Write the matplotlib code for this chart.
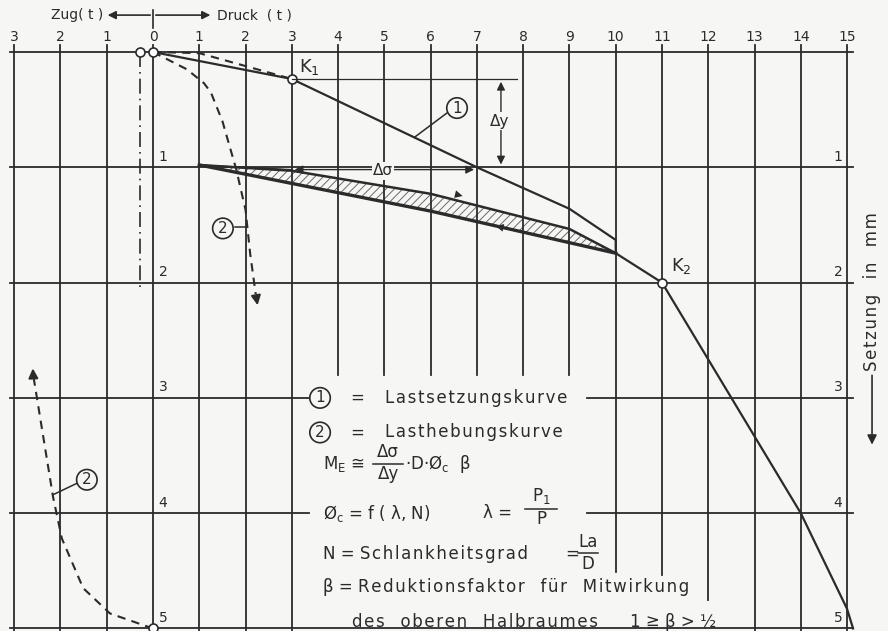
import matplotlib
matplotlib.use("Agg")
import matplotlib.pyplot as plt

plt.rcParams["font.family"] = ["DejaVu Sans"]
plt.rcParams["mathtext.fontset"] = "dejavusans"
plt.rcParams["hatch.linewidth"] = 0.7
plt.rcParams["hatch.color"] = "#6a6a6a"

# load axis (t) and settlement axis (mm)
load_ticks = list(range(-3, 16))
load_labels = [str(abs(v)) for v in load_ticks]
settle_ticks = [0, 1, 2, 3, 4, 5]

# curve 1: Lastsetzungskurve
curve1_t = [0, 3, 7, 9, 10, 10, 11, 12.5, 14, 15, 15.13]
curve1_s = [0, 0.234, 1.0, 1.36, 1.63, 1.745, 2.0, 3.0, 4.0, 4.83, 5.0]

# dashed reloading path 0 -> K1
reload_t = [0, 1.0, 3.0]
reload_s = [0, 0.01, 0.234]

# hysteresis loop (hatched band)
hyst_up_t = [1, 3, 6, 9, 10]
hyst_up_s = [0.98, 1.03, 1.23, 1.535, 1.745]
hyst_lo_t = [1, 6, 10]
hyst_lo_s = [0.98, 1.38, 1.745]

# curve 2: Lasthebungskurve (upper and lower branch)
lift_t = [0, 0.73, 1.1, 1.25, 1.5, 1.8, 2.0, 2.1, 2.22]
lift_s = [0, 0.15, 0.27, 0.35, 0.6, 1.02, 1.37, 1.75, 2.1]
lift2_t = [0, -0.93, -1.51, -1.97, -2.16, -2.59]
lift2_s = [5.0, 4.87, 4.65, 4.22, 3.86, 2.8]

# marked points
k_points_t = [0, -0.28, 3, 11, 0]
k_points_s = [0, 0, 0.234, 2.0, 5.0]

INK = "#2b2b2b"
BG = "#f6f6f4"
HS = "\u200a"


def spaced(s):
    # the drawing uses wide letter spacing
    return HS.join(s)


fig = plt.figure(figsize=(8.88, 6.31), dpi=100, facecolor=BG)
ax = fig.add_axes([0, 0, 1, 1])
ax.set_facecolor(BG)
ax.set_xlim(-3.307, 15.885)
ax.set_ylim(5.022, -0.451)
ax.axis("off")

# grid
for t in load_ticks:
    bottom = 5.02
    if 4 <= t <= 9:
        bottom = 2.8
    elif t == 10:
        bottom = 4.51
    elif t == 11:
        bottom = 4.54
    elif t == 12:
        bottom = 4.75
    ax.plot([t, t], [-0.06, bottom], color=INK, lw=1.3)
for s in settle_ticks:
    if s in (3, 4):
        ax.plot([-3.09, 3.37], [s, s], color=INK, lw=1.3)
        ax.plot([9.38, 15.13], [s, s], color=INK, lw=1.3)
    else:
        ax.plot([-3.09, 15.13], [s, s], color=INK, lw=1.3)

# tick labels
for t, lab in zip(load_ticks, load_labels):
    ax.text(t, -0.13, lab, ha="center", va="center", fontsize=10, color=INK)
for s in settle_ticks[1:]:
    ax.text(0.12, s - 0.03, str(s), ha="left", va="bottom", fontsize=10, color=INK)
    ax.text(14.9, s - 0.03, str(s), ha="right", va="bottom", fontsize=10, color=INK)

# header: Zug / Druck
ax.plot([0, 0], [-0.365, -0.21], color=INK, lw=1.2)
ax.annotate("", xy=(-1.04, -0.32), xytext=(0, -0.32),
            arrowprops=dict(arrowstyle="-|>", color=INK, lw=1.2, mutation_scale=12))
ax.annotate("", xy=(1.3, -0.32), xytext=(0, -0.32),
            arrowprops=dict(arrowstyle="-|>", color=INK, lw=1.2, mutation_scale=12))
ax.text(-1.08, -0.32, "Zug( t )", ha="right", va="center", fontsize=10, color=INK)
ax.text(1.38, -0.32, "Druck  ( t )", ha="left", va="center", fontsize=10, color=INK)

# right label
ax.text(15.54, 2.08, spaced("Setzung  in  mm"), rotation=90, ha="center", va="center",
        fontsize=12, color=INK)
ax.annotate("", xy=(15.54, 3.43), xytext=(15.54, 2.78),
            arrowprops=dict(arrowstyle="-|>", color=INK, lw=1.2, mutation_scale=14))

# hatched hysteresis band
band_t = hyst_up_t + hyst_lo_t[::-1]
band_s = hyst_up_s + hyst_lo_s[::-1]
ax.fill(band_t, band_s, facecolor="none", edgecolor="#6a6a6a", hatch="////", lw=0)
ax.plot(hyst_up_t, hyst_up_s, color=INK, lw=1.8)
ax.plot(hyst_lo_t, hyst_lo_s, color=INK, lw=2.4)
ax.annotate("", xy=(6.75, 1.255), xytext=(6.3, 1.21),
            arrowprops=dict(arrowstyle="-|>", color=INK, lw=0, mutation_scale=14))
ax.annotate("", xy=(7.35, 1.505), xytext=(7.8, 1.545),
            arrowprops=dict(arrowstyle="-|>", color=INK, lw=0, mutation_scale=14))

# curve 1 and dashed reload path
ax.plot(curve1_t, curve1_s, color=INK, lw=1.6)
ax.plot(reload_t, reload_s, color=INK, lw=1.5, linestyle=(0, (4, 3)))

# curve 2 branches
ax.plot(lift_t, lift_s, color=INK, lw=1.5, linestyle=(0, (4, 3)))
ax.annotate("", xy=(2.27, 2.22), xytext=(lift_t[-1], lift_s[-1]),
            arrowprops=dict(arrowstyle="-|>", color=INK, lw=1.5, mutation_scale=14))
ax.plot(lift2_t, lift2_s, color=INK, lw=1.5, linestyle=(0, (4, 3)))
ax.annotate("", xy=(-2.6, 2.72), xytext=(lift2_t[-1], lift2_s[-1]),
            arrowprops=dict(arrowstyle="-|>", color=INK, lw=1.5, mutation_scale=14))

# dash-dot line at the zero offset
ax.plot([-0.28, -0.28], [0, 2.04], color=INK, lw=1.2, linestyle=(0, (9, 3, 1, 3)))

# marked points
ax.plot(k_points_t, k_points_s, linestyle="none", marker="o", markersize=6.5,
        markerfacecolor="white", markeredgecolor=INK, markeredgewidth=1.2)
ax.text(3.15, 0.13, r"K$_\mathregular{1}$", ha="left", va="center", fontsize=13, color=INK)
ax.text(11.2, 1.86, r"K$_\mathregular{2}$", ha="left", va="center", fontsize=13, color=INK)

# delta y dimension
ax.plot([3, 7.87], [0.234, 0.234], color=INK, lw=0.9)
ax.annotate("", xy=(7.52, 0.234), xytext=(7.52, 1.0),
            arrowprops=dict(arrowstyle="<|-|>", color=INK, lw=1.0, mutation_scale=12))
ax.text(7.5, 0.6, "Δy", ha="center", va="center", fontsize=11, color=INK,
        bbox=dict(facecolor=BG, edgecolor="none", pad=1))

# delta sigma dimension
ax.plot([1, 3], [0.98, 1.02], color=INK, lw=0.9)
ax.annotate("", xy=(3, 1.02), xytext=(7, 1.02),
            arrowprops=dict(arrowstyle="<|-|>", color=INK, lw=1.0, mutation_scale=12))
ax.text(4.97, 1.03, "Δσ", ha="center", va="center", fontsize=11, color=INK,
        bbox=dict(facecolor=BG, edgecolor="none", pad=1))

circle = dict(boxstyle="circle,pad=0.18", facecolor=BG, edgecolor=INK, lw=1.2)

# curve labels with leaders
ax.plot([6.35, 5.65], [0.53, 0.74], color=INK, lw=1.1)
ax.text(6.57, 0.486, "1", ha="center", va="center", fontsize=11, color=INK, bbox=circle)
ax.plot([1.77, 2.04], [1.52, 1.52], color=INK, lw=1.1)
ax.text(1.51, 1.53, "2", ha="center", va="center", fontsize=11, color=INK, bbox=circle)
ax.plot([-1.64, -2.16], [3.74, 3.84], color=INK, lw=1.1)
ax.text(-1.43, 3.71, "2", ha="center", va="center", fontsize=11, color=INK, bbox=circle)


def fraction(tc, sc, num, den, half):
    ax.plot([tc - half, tc + half], [sc, sc], color=INK, lw=1.1)
    ax.text(tc, sc - 0.02, num, ha="center", va="bottom", fontsize=fs, color=INK)
    ax.text(tc, sc + 0.015, den, ha="center", va="top", fontsize=fs, color=INK)


# legend / formula block
fs = 12
ax.text(3.61, 3.0, "1", ha="center", va="center", fontsize=11, color=INK, bbox=circle)
ax.text(4.41, 3.0, "=", ha="center", va="center", fontsize=fs, color=INK)
ax.text(5.01, 3.0, spaced("Lastsetzungskurve"), ha="left", va="center", fontsize=fs, color=INK)
ax.text(3.61, 3.3, "2", ha="center", va="center", fontsize=11, color=INK, bbox=circle)
ax.text(4.41, 3.3, "=", ha="center", va="center", fontsize=fs, color=INK)
ax.text(5.01, 3.3, spaced("Lasthebungskurve"), ha="left", va="center", fontsize=fs, color=INK)

ax.text(3.67, 3.57, r"M$_\mathregular{E}$ ≅", ha="left", va="center", fontsize=fs, color=INK)
fraction(5.08, 3.57, "Δσ", "Δy", 0.33)
ax.text(5.45, 3.57, r"·D·Ø$_\mathregular{c}$  β", ha="left", va="center", fontsize=fs, color=INK)

ax.text(3.67, 4.0, r"Ø$_\mathregular{c}$ = f ( λ, N)", ha="left", va="center",
        fontsize=fs, color=INK)
ax.text(7.13, 4.0, "λ =", ha="left", va="center", fontsize=fs, color=INK)
fraction(8.39, 3.96, r"P$_\mathregular{1}$", "P", 0.35)

ax.text(3.67, 4.35, "N = " + spaced("Schlankheitsgrad"), ha="left", va="center",
        fontsize=fs, color=INK)
ax.text(9.05, 4.35, "=", ha="center", va="center", fontsize=fs, color=INK)
fraction(9.4, 4.345, "La", "D", 0.22)

ax.text(3.67, 4.64, "β = " + spaced("Reduktionsfaktor") + "   " + spaced("für") + "   "
        + spaced("Mitwirkung"), ha="left", va="center", fontsize=fs, color=INK)
ax.text(4.3, 4.94, spaced("des") + "   " + spaced("oberen") + "   " + spaced("Halbraumes"),
        ha="left", va="center", fontsize=fs, color=INK)
ax.text(10.31, 4.94, "1 ≧ β > ½", ha="left", va="center", fontsize=fs, color=INK)

fig.savefig("out.png", dpi=100, facecolor=BG)
